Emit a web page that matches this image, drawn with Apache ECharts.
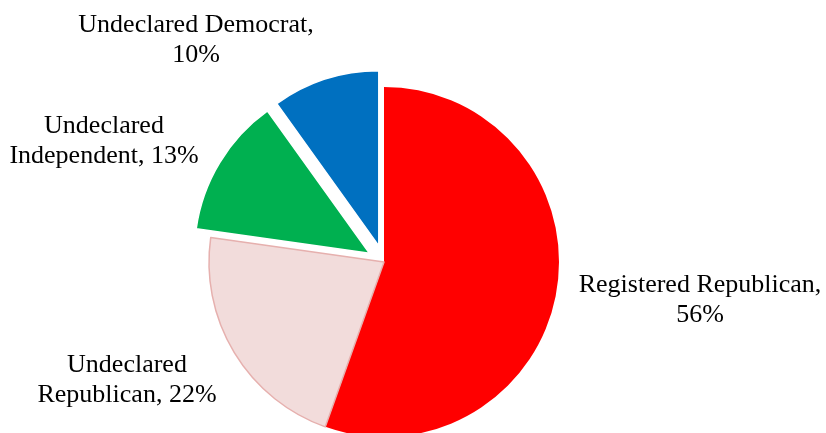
<!DOCTYPE html>
<html>
<head>
<meta charset="utf-8">
<script src="https://cdn.jsdelivr.net/npm/echarts@6/dist/echarts.min.js"></script>
<style>
  html, body { margin: 0; padding: 0; background: #fff; }
</style>
</head>
<body>
<div id="chart" style="width:826px;height:433px;"></div>
<script>
// data
var categories = ['Registered Republican', 'Undeclared Republican', 'Undeclared Independent', 'Undeclared Democrat'];
var values = [56, 22, 13, 10];
var exploded = [false, false, true, true];

var colors = ['#FF0000', '#F2DCDB', '#00B050', '#0070C0'];
var borders = ['#FF0000', '#E6B0AE', '#FFFFFF', '#FFFFFF'];
// label block centres (px)
var labelPos = [[700, 300], [127, 380], [104, 141], [196, 40]];

function labelText(i) {
    var name = categories[i];
    if (i === 0 || i === 3) {
        return name + ',\n' + values[i] + '%';
    }
    return name.replace(' ', '\n') + ', ' + values[i] + '%';
}

var pieData = [];
var labels = [];
for (var i = 0; i < categories.length; i++) {
    pieData.push({
        name: categories[i],
        value: values[i],
        selected: exploded[i],
        itemStyle: {
            color: colors[i],
            borderColor: borders[i],
            borderWidth: i === 0 ? 0 : 1.5
        }
    });
    labels.push({
        type: 'text',
        x: labelPos[i][0],
        y: labelPos[i][1],
        style: {
            text: labelText(i),
            fill: '#000',
            font: '26px "Liberation Serif"',
            lineHeight: 30,
            textAlign: 'center',
            textVerticalAlign: 'middle'
        }
    });
}

var option = {
    animation: false,
    graphic: labels,
    series: [{
        type: 'pie',
        center: [384, 262],
        radius: 175,
        startAngle: 90,
        clockwise: true,
        selectedMode: 'multiple',
        selectedOffset: 17,
        emphasis: { disabled: true },
        data: pieData,
        label: { show: false },
        labelLine: { show: false }
    }]
};

var chart = echarts.init(document.getElementById('chart'));
chart.setOption(option);
window.addEventListener('resize', function () {
    chart.resize();
});
</script>
</body>
</html>
